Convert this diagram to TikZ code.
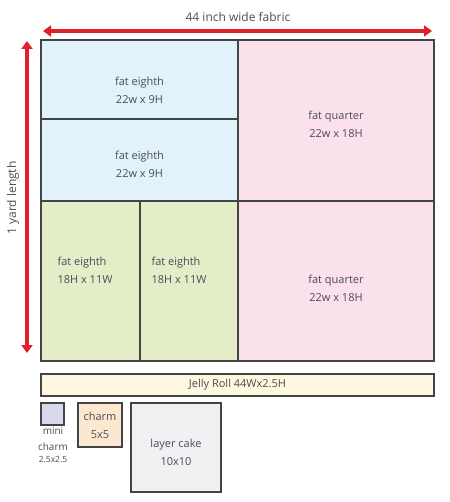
\documentclass[tikz,border=0pt]{standalone}
\usepackage{fontspec}
\setmainfont{Open Sans}
\usetikzlibrary{arrows.meta}
\definecolor{bd}{HTML}{444444}
\definecolor{tx}{HTML}{4C4C55}
\definecolor{blu}{HTML}{E1F2FB}
\definecolor{pnk}{HTML}{FAE1EC}
\definecolor{grn}{HTML}{E3EDC8}
\definecolor{jel}{HTML}{FEF8E0}
\definecolor{mini}{HTML}{D8D8EE}
\definecolor{chm}{HTML}{FCE8D0}
\definecolor{cake}{HTML}{F0F1F3}
\definecolor{arr}{HTML}{E0202A}
\tikzset{
  piece/.style={draw=bd, line width=1.2pt},
  lbl/.style={text=tx, font=\fontsize{11}{18}\selectfont, align=center},
  bigarrow/.style={draw=arr, line width=3.5pt, {Triangle[length=8pt,width=11pt]}-{Triangle[length=8pt,width=11pt]}}
}
\begin{document}
\begin{tikzpicture}[x=1pt,y=-1pt]
\useasboundingbox (0,0) rectangle (449,502);
% pieces
\filldraw[piece, fill=blu] (41,40) rectangle (238,119);
\filldraw[piece, fill=blu] (41,119) rectangle (238,201);
\filldraw[piece, fill=pnk] (238,40) rectangle (434,201);
\filldraw[piece, fill=pnk] (238,201) rectangle (434,361);
\filldraw[piece, fill=grn] (41,201) rectangle (140,361);
\filldraw[piece, fill=grn] (140,201) rectangle (238,361);
\filldraw[piece, fill=jel] (41,374) rectangle (434,396);
\filldraw[piece, fill=mini] (41,403) rectangle (64,425);
\filldraw[piece, fill=chm] (78,403) rectangle (122,447);
\filldraw[piece, fill=cake] (131,403) rectangle (221,492);
% labels
\node[lbl] (fe1) at (139.5,90) {fat eighth\\22w x 9H};
\node[lbl] (fe2) at (139.5,164) {fat eighth\\22w x 9H};
\node[lbl] (fq1) at (336,124) {fat quarter\\22w x 18H};
\node[lbl] (fq2) at (336,288) {fat quarter\\22w x 18H};
\node[lbl, align=left, anchor=west] (fe3) at (54,270) {fat eighth\\18H x 11W};
\node[lbl, align=left, anchor=west] (fe4) at (148,270) {fat eighth\\18H x 11W};
\node[lbl] (jr) at (237.5,385) {Jelly Roll 44Wx2.5H};
\node[lbl, font=\fontsize{10}{16}\selectfont] (mc) at (53,445) {mini\\charm\\[-4pt]{\fontsize{8.5}{10}\selectfont 2.5x2.5}};
\node[lbl] (ch) at (100,425) {charm\\5x5};
\node[lbl] (lc) at (176,452) {layer cake\\10x10};
% dimension arrows
\coordinate (hl) at (43,31);
\coordinate (hr) at (432,31);
\coordinate (vt) at (27,41);
\coordinate (vb) at (27,353);
\draw[bigarrow] (hl) -- (hr);
\draw[bigarrow] (vt) -- (vb);
\node[lbl, font=\fontsize{12}{14}\selectfont] (w) at (238,17) {44 inch wide fabric};
\node[lbl, font=\fontsize{12}{14}\selectfont, rotate=90] (h) at (13,198) {1 yard length};
\end{tikzpicture}
\end{document}
